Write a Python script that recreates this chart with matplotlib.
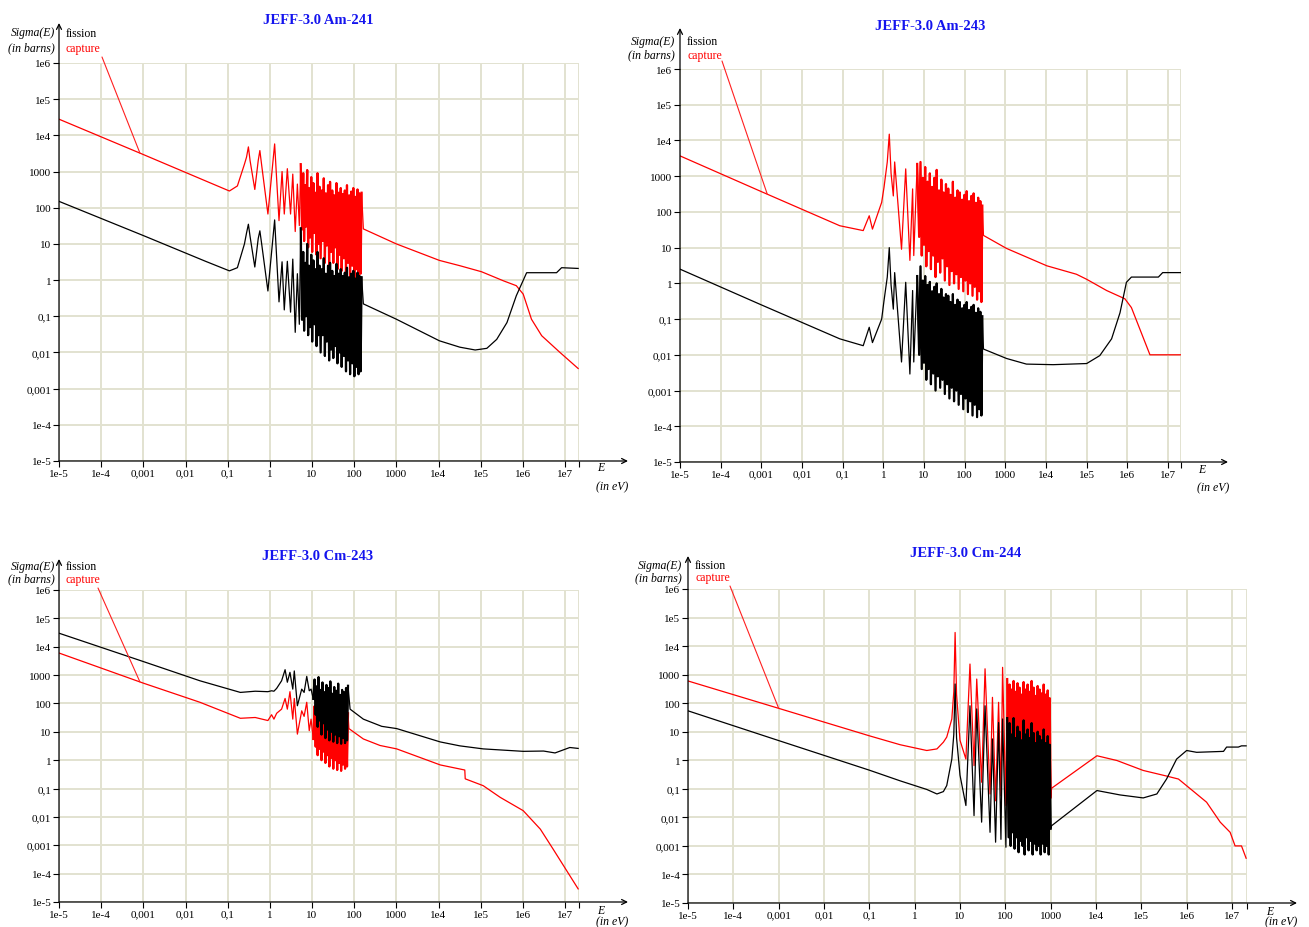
import numpy as np
import matplotlib
matplotlib.use('Agg')
import matplotlib.pyplot as plt

plt.rcParams['font.family'] = ['Liberation Serif', 'DejaVu Serif']

W, H = 1309, 928

# decades on both axes, labelled the way the original does it (comma decimals)
decades = [1e-5, 1e-4, 1e-3, 1e-2, 1e-1, 1, 10, 100, 1000, 1e4, 1e5, 1e6, 1e7]
decade_text = ['1e-5', '1e-4', '0,001', '0,01', '0,1', '1', '10', '100', '1000', '1e4', '1e5', '1e6', '1e7']
e_max = 2.1e7

# ---------------- Am-241 ----------------
am241_e_low = [1e-5, 1e-3, 0.03, 0.11, 0.17, 0.25, 0.28, 0.31, 0.34, 0.44, 0.53, 0.58, 0.64, 0.9, 1.3,
               1.65, 1.95, 2.2, 2.6, 3.1, 3.5, 4.0, 4.5, 5.0, 5.4]
am241_cap_low = [28000, 2950, 550, 290, 400, 1600, 2500, 4800, 2000, 320, 2000, 3800, 1500, 67, 5800,
                 44, 1000, 67, 1200, 67, 850, 22, 450, 32, 1600]
am241_fis_low = [150, 17, 3.3, 1.8, 2.2, 10, 20, 35, 16, 2.3, 14, 23, 10, 0.5, 46,
                 0.25, 3.2, 0.15, 3.3, 0.13, 3.8, 0.036, 1.5, 0.06, 27]
am241_e_dense = [5.8, 6.2, 6.5, 6.9, 7.2, 7.7, 8.1, 8.5, 9.0, 9.6, 10.1, 10.8, 11.4, 12.0, 12.8, 13.5,
                 14.2, 15.1, 16.0, 17.1, 18.0, 19.0, 20.2, 21.3, 22.5, 24.0, 25.5, 26.8, 28.5, 30.2,
                 32.0, 33.8, 36.0, 38.0, 40.1, 42.8, 45.0, 48.0, 50.5, 53.8, 57.0, 60.0, 64.0, 67.5,
                 71.5, 76.0, 80.0, 85.0, 90.0, 95.5, 101, 107, 113, 120, 127, 134, 142, 150]
am241_cap_dense = [25, 900, 12, 420, 30, 1100, 8, 350, 15, 700, 6, 480, 20, 260, 5, 900, 10, 380, 4, 300,
                   12, 650, 3, 250, 9, 420, 2.5, 520, 6, 300, 3, 220, 8, 480, 2, 260, 5, 350, 1.8, 240,
                   4, 300, 1.5, 420, 3, 220, 1.2, 280, 2.5, 350, 1.1, 200, 2, 320, 1.3, 250, 1.5, 260]
am241_fis_dense = [0.08, 6, 0.04, 3, 0.1, 10, 0.03, 2.5, 0.05, 5, 0.02, 3.5, 0.06, 2, 0.015, 6, 0.03, 2.5,
                   0.01, 2, 0.03, 4, 0.008, 1.5, 0.02, 2.5, 0.006, 3, 0.012, 1.8, 0.007, 1.3, 0.015, 2.8,
                   0.005, 1.5, 0.01, 2, 0.004, 1.3, 0.008, 1.6, 0.003, 2.2, 0.006, 1.2, 0.0025, 1.5,
                   0.005, 1.8, 0.0022, 1.1, 0.004, 1.6, 0.0025, 1.3, 0.003, 1.2]
am241_e_cap_high = [165, 1000, 1.05e4, 3.2e4, 1.05e5, 3.5e5, 7e5, 1.02e6, 1.6e6, 2.8e6, 7.6e6, 2.05e7]
am241_cap_high = [26, 10, 3.5, 2.5, 1.7, 0.95, 0.7, 0.41, 0.083, 0.029, 0.01, 0.0036]
am241_e_fis_high = [165, 1000, 1.05e4, 3.2e4, 7.4e4, 1.4e5, 2.4e5, 4.2e5, 7e5, 1.23e6, 6.3e6, 8.3e6, 2.05e7]
am241_fis_high = [0.22, 0.083, 0.021, 0.014, 0.0117, 0.013, 0.023, 0.067, 0.37, 1.6, 1.6, 2.2, 2.1]

# ---------------- Am-243 ----------------
am243_e_low = [1e-5, 1e-3, 0.085, 0.32, 0.45, 0.54, 0.91, 1.04, 1.25, 1.4, 1.55, 1.76, 1.9, 2.8, 3.55,
               4.5, 5.25, 5.6, 6.8]
am243_cap_low = [3700, 370, 41, 30, 78, 33, 185, 490, 2500, 15000, 1200, 280, 2500, 9, 1600,
                 4.4, 440, 6, 2200]
am243_fis_low = [2.5, 0.25, 0.028, 0.018, 0.059, 0.022, 0.1, 0.33, 1.5, 10, 0.9, 0.19, 2, 0.0063, 1.07,
                 0.0029, 0.63, 0.0063, 1.6]
am243_e_dense = [7.6, 8.2, 8.8, 9.4, 10.0, 10.7, 11.4, 12.2, 13.0, 13.9, 14.8, 15.8, 16.9, 18.0, 19.2,
                 20.5, 21.9, 23.4, 25.0, 26.7, 28.5, 30.4, 32.5, 34.7, 37.0, 39.5, 42.2, 45.0, 48.0,
                 51.3, 54.8, 58.5, 62.5, 66.7, 71.2, 76.0, 81.1, 86.6, 92.5, 98.7, 105, 112, 120, 128,
                 137, 146, 156, 166, 177, 189, 202, 215, 229, 243, 258, 272]
am243_cap_dense = [20, 2500, 6, 900, 12, 1800, 3, 700, 8, 1200, 2.5, 500, 6, 900, 1.5, 1500, 4, 400, 2,
                   800, 5, 350, 1.2, 600, 3, 450, 0.9, 300, 2.2, 700, 1, 250, 1.8, 400, 0.7, 350, 1.5,
                   220, 0.6, 300, 1.2, 380, 0.5, 200, 1, 280, 0.45, 330, 0.8, 180, 0.35, 250, 0.6, 200,
                   0.3, 150]
am243_fis_dense = [0.01, 3, 0.004, 1.2, 0.006, 1.6, 0.002, 0.9, 0.004, 1.1, 0.0015, 0.6, 0.003, 0.8,
                   0.001, 1.0, 0.0025, 0.5, 0.0012, 0.7, 0.002, 0.4, 0.0008, 0.5, 0.0015, 0.45, 0.0006,
                   0.3, 0.0012, 0.5, 0.0005, 0.25, 0.001, 0.35, 0.0004, 0.3, 0.0008, 0.2, 0.0003, 0.25,
                   0.0006, 0.3, 0.00025, 0.18, 0.0005, 0.22, 0.0002, 0.25, 0.0004, 0.15, 0.00018, 0.2,
                   0.0003, 0.16, 0.0002, 0.12]
am243_e_cap_high = [290, 1070, 1.05e4, 5.6e4, 1e5, 3.1e5, 8.7e5, 1.26e6, 3.6e6, 2.05e7]
am243_cap_high = [22, 9.5, 3.1, 1.8, 1.3, 0.63, 0.37, 0.21, 0.01, 0.01]
am243_e_fis_high = [290, 1070, 3.3e3, 1.5e4, 1e5, 2.1e5, 4.1e5, 6.6e5, 9.5e5, 1.26e6, 5.8e6, 7.4e6, 2.05e7]
am243_fis_high = [0.0145, 0.0079, 0.0055, 0.0053, 0.0057, 0.0095, 0.028, 0.15, 1.07, 1.5, 1.5, 2.0, 2.0]

# ---------------- Cm-243 ----------------
cm243_e_low = [1e-5, 1e-3, 0.022, 0.2, 0.45, 0.9, 1.1, 1.25, 1.45, 1.9, 2.3, 2.6, 3.0, 3.5, 3.8,
               4.5, 5.7, 6.5, 7.5, 8.6, 9.5, 10.7]
cm243_cap_low = [6000, 520, 110, 30, 32, 25, 40, 28, 45, 63, 150, 63, 260, 28, 150,
                 8.3, 55, 35, 110, 11, 28, 5.6]
cm243_fis_low = [30000, 3000, 630, 245, 270, 260, 280, 270, 340, 630, 1550, 560, 1250, 320, 1400,
                 83, 320, 245, 900, 280, 320, 145]
cm243_e_dense = [11.5, 12.2, 12.9, 13.6, 14.3, 15.1, 16.0, 16.8, 17.7, 18.7, 19.7, 20.8, 22.0, 23.2,
                 24.5, 25.8, 27.2, 28.7, 30.3, 32.0, 33.7, 35.6, 37.5, 39.6, 41.8, 44.1, 46.5, 49.1,
                 51.8, 54.6, 57.6, 60.8, 64.1, 67.7, 71.4]
cm243_cap_dense = [80, 3, 45, 1.5, 90, 2.5, 35, 1, 60, 2, 30, 0.8, 50, 1.5, 40, 0.6, 70, 1.2, 25, 0.5,
                   40, 1, 30, 0.45, 55, 0.8, 22, 0.42, 35, 0.7, 28, 0.5, 40, 0.6, 45]
cm243_fis_dense = [700, 40, 400, 15, 850, 25, 300, 8, 550, 20, 250, 6, 450, 12, 350, 5, 600, 10, 220,
                   4.5, 380, 8, 280, 4, 500, 7, 200, 3.8, 300, 6, 250, 4, 350, 5, 420]
cm243_e_cap_high = [75, 165, 410, 1020, 1.1e4, 4.2e4, 4.3e4, 1.15e5, 2.9e5, 1.02e6, 2.6e6, 5.2e6, 1.1e7, 2.05e7]
cm243_cap_high = [13, 5.6, 3.3, 2.5, 0.68, 0.45, 0.22, 0.126, 0.049, 0.0166, 0.0037, 7.4e-4, 1.26e-4, 2.9e-5]
cm243_e_fis_high = [80, 165, 450, 1020, 1.1e4, 3.2e4, 1.15e5, 1.02e6, 3.1e6, 5.8e6, 1.3e7, 2.05e7]
cm243_fis_high = [63, 28, 15.6, 13, 4.4, 3.2, 2.5, 2.05, 2.1, 1.8, 2.8, 2.6]

# ---------------- Cm-244 ----------------
cm244_e_low = [1e-5, 1e-3, 0.1, 0.48, 1.85, 3.1, 4.3, 5.1, 6.6, 7.3, 7.8, 8.4, 10, 13.5, 16.6,
               20.4, 23.4, 30, 35.7, 46, 52, 61, 71, 80, 87, 103, 110]
cm244_cap_low = [600, 66, 7.2, 3.5, 2.2, 2.5, 4.3, 6.5, 28, 250, 30000, 200, 5, 1.1, 2350,
                 0.65, 700, 0.17, 1600, 0.066, 160, 0.038, 107, 0.057, 1800, 0.026, 700]
cm244_fis_low = [54, 4.9, 0.45, 0.19, 0.095, 0.066, 0.08, 0.13, 1.1, 8, 470, 6, 0.3, 0.026, 81,
                 0.0115, 63, 0.0068, 81, 0.003, 5.6, 0.00135, 21, 0.0017, 28, 0.0009, 30]
cm244_e_dense = [118, 124, 131, 137, 144, 152, 160, 168, 177, 186, 196, 206, 217, 228, 240, 253, 266,
                 280, 295, 310, 326, 343, 361, 380, 400, 421, 443, 466, 491, 516, 543, 572, 602, 633,
                 666, 701, 738, 777, 818, 860, 905, 952, 1000]
cm244_cap_dense = [0.03, 450, 0.02, 300, 0.05, 600, 0.015, 250, 0.04, 500, 0.012, 350, 0.03, 200, 0.02,
                   550, 0.011, 300, 0.04, 450, 0.015, 250, 0.03, 600, 0.012, 350, 0.025, 180, 0.015,
                   400, 0.02, 300, 0.012, 220, 0.03, 450, 0.015, 200, 0.02, 280, 0.012, 150, 0.05]
cm244_fis_dense = [0.002, 20, 0.001, 8, 0.003, 30, 0.0008, 6, 0.002, 15, 0.0006, 10, 0.0015, 5, 0.001,
                   25, 0.0005, 8, 0.002, 12, 0.0007, 6, 0.0015, 20, 0.0005, 9, 0.0012, 4, 0.0007, 10,
                   0.001, 7, 0.0005, 5, 0.0012, 12, 0.0006, 4, 0.001, 7, 0.0005, 3.5, 0.004]
cm244_e_cap_high = [1050, 1.05e4, 2.9e4, 1.1e5, 3.6e5, 6.6e5, 1.1e6, 2.75e6, 5.5e6, 9.1e6, 1.17e7, 1.62e7, 2.05e7]
cm244_cap_high = [0.105, 1.44, 0.98, 0.44, 0.28, 0.22, 0.113, 0.034, 0.0068, 0.003, 0.001, 0.001, 3.7e-4]
cm244_e_fis_high = [1050, 1.05e4, 3.4e4, 1.1e5, 2.2e5, 3.6e5, 6e5, 1e6, 1.66e6, 6.5e6, 7.6e6, 1.38e7, 1.62e7, 2.05e7]
cm244_fis_high = [0.0051, 0.087, 0.061, 0.048, 0.066, 0.22, 1.1, 2.2, 1.9, 2.05, 2.9, 2.9, 3.2, 3.2]


def ftext(fig, x, y, s, **kw):
    # place text at a pixel position of the 1309x928 canvas
    fig.text(x / W, 1 - y / H, s, **kw)


def draw_panel(fig, p, e_low, cap_low, fis_low, e_dense, cap_dense, fis_dense,
               e_cap_high, cap_high, e_fis_high, fis_high):
    l, r, t, b = p['box']
    ax = fig.add_axes([l / W, 1 - b / H, (r - l) / W, (b - t) / H])
    ax.set_xscale('log')
    ax.set_yscale('log')

    e_cap = e_low + e_dense + e_cap_high
    s_cap = cap_low + cap_dense + cap_high
    e_fis = e_low + e_dense + e_fis_high
    s_fis = fis_low + fis_dense + fis_high
    ax.plot(e_cap, s_cap, color='#ff0000', lw=0.9, zorder=2)
    ax.plot(e_fis, s_fis, color='black', lw=0.9, zorder=3)
    # the unresolved-looking resonance band is drawn a little heavier so it reads as solid
    i0, i1 = len(e_low) - 1, len(e_low) + len(e_dense)
    ax.plot(e_cap[i0:i1], s_cap[i0:i1], color='#ff0000', lw=1.6, zorder=2)
    ax.plot(e_fis[i0:i1], s_fis[i0:i1], color='black', lw=1.6, zorder=3)

    ax.set_xlim(1e-5, e_max)
    ax.set_ylim(1e-5, 1e6)
    ax.set_xticks(decades + [e_max])
    ax.set_xticklabels(decade_text + [''])
    ax.set_yticks(decades[:12])
    ax.set_yticklabels(decade_text[:12])
    ax.minorticks_off()
    ax.tick_params(direction='out', length=4, width=0.8, labelsize=8, pad=1.5)
    ax.grid(True, color='#e2e2d0', lw=1.4)
    ax.set_axisbelow(True)
    for s in ax.spines.values():
        s.set_visible(False)

    # axis lines with arrow heads running past the grid
    arrow = dict(arrowstyle='->', color='black', lw=0.9, shrinkA=0, shrinkB=0, mutation_scale=9)
    ax.annotate('', xy=(0, 1 + (t - p['y_tip']) / (b - t)), xytext=(0, 0),
                xycoords='axes fraction', arrowprops=arrow, annotation_clip=False)
    ax.annotate('', xy=(1 + (p['x_tip'] - r) / (r - l), 0), xytext=(0, 0),
                xycoords='axes fraction', arrowprops=arrow, annotation_clip=False)

    # red leader from the "capture" label to the capture curve
    le = p['lead_e']
    ls = 10 ** np.interp(np.log10(le), np.log10(e_low), np.log10(cap_low))
    fx, fy = p['lead_from']
    ax.annotate('', xy=(le, ls), xytext=(fx, H - fy), textcoords='figure pixels',
                arrowprops=dict(arrowstyle='-', color='#ff2020', lw=0.8, shrinkA=0, shrinkB=0),
                annotation_clip=False)

    sx, sy1, sy2 = p['sigma']
    ftext(fig, sx, sy1, 'Sigma(E)', style='italic', fontsize=8.5, ha='right', va='center')
    ftext(fig, sx, sy2, '(in barns)', style='italic', fontsize=8.5, ha='right', va='center')
    lx, ly1, ly2 = p['legend']
    ftext(fig, lx, ly1, 'fission', color='black', fontsize=8.5, ha='left', va='center')
    ftext(fig, lx, ly2, 'capture', color='#ff0000', fontsize=8.5, ha='left', va='center')
    ex, ey1, ey2 = p['e_label']
    ftext(fig, ex, ey1, 'E', style='italic', fontsize=8.5, ha='center', va='center')
    ftext(fig, ex + 11, ey2, '(in eV)', style='italic', fontsize=8.5, ha='center', va='center')
    tx, ty = p['title_pos']
    ftext(fig, tx, ty, p['title'], color='#1414ee', fontsize=10.5, fontweight='bold',
          ha='center', va='center')
    return ax


fig = plt.figure(figsize=(W / 100, H / 100), dpi=100)

panels = [
    dict(title='JEFF-3.0 Am-241', title_pos=(318, 20), box=(59, 578.6, 64, 462), y_tip=24, x_tip=628,
         lead_e=8.3e-4, lead_from=(102, 58), sigma=(55, 33, 48), legend=(66, 34, 49), e_label=(601, 468, 487)),
    dict(title='JEFF-3.0 Am-243', title_pos=(930, 27), box=(680, 1181.1, 70, 463), y_tip=29, x_tip=1228,
         lead_e=1.4e-3, lead_from=(722, 62), sigma=(675, 42, 55), legend=(687, 42, 56), e_label=(1202, 470, 488)),
    dict(title='JEFF-3.0 Cm-243', title_pos=(318, 556), box=(59, 578.6, 591, 903), y_tip=560, x_tip=628,
         lead_e=8.3e-4, lead_from=(98, 589), sigma=(55, 567, 579), legend=(66, 567, 580), e_label=(601, 911, 922)),
    dict(title='JEFF-3.0 Cm-244', title_pos=(966, 554), box=(688, 1246.6, 590, 904), y_tip=557, x_tip=1297,
         lead_e=1e-3, lead_from=(730, 587), sigma=(682, 566, 578), legend=(695, 566, 578), e_label=(1270, 912, 922)),
]

draw_panel(fig, panels[0], am241_e_low, am241_cap_low, am241_fis_low, am241_e_dense, am241_cap_dense,
           am241_fis_dense, am241_e_cap_high, am241_cap_high, am241_e_fis_high, am241_fis_high)
draw_panel(fig, panels[1], am243_e_low, am243_cap_low, am243_fis_low, am243_e_dense, am243_cap_dense,
           am243_fis_dense, am243_e_cap_high, am243_cap_high, am243_e_fis_high, am243_fis_high)
draw_panel(fig, panels[2], cm243_e_low, cm243_cap_low, cm243_fis_low, cm243_e_dense, cm243_cap_dense,
           cm243_fis_dense, cm243_e_cap_high, cm243_cap_high, cm243_e_fis_high, cm243_fis_high)
draw_panel(fig, panels[3], cm244_e_low, cm244_cap_low, cm244_fis_low, cm244_e_dense, cm244_cap_dense,
           cm244_fis_dense, cm244_e_cap_high, cm244_cap_high, cm244_e_fis_high, cm244_fis_high)

fig.savefig('out.png', dpi=100)
plt.close(fig)
